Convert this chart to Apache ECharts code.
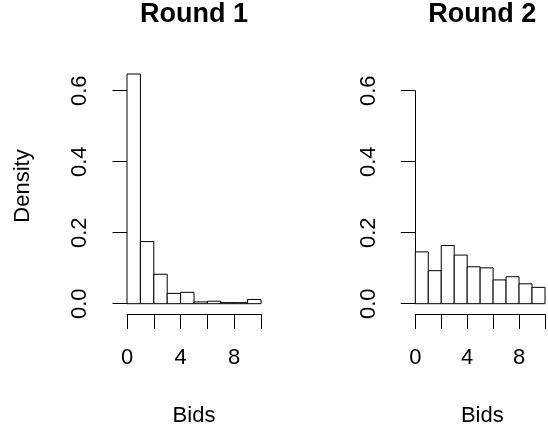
<!DOCTYPE html>
<html>
<head>
<meta charset="utf-8">
<script src="https://cdn.jsdelivr.net/npm/echarts@6/dist/echarts.min.js"></script>
<style>
  html, body { margin: 0; padding: 0; background: #ffffff; }
  #chart { width: 548px; height: 433px; }
</style>
</head>
<body>
<div id="chart"></div>
<script>
// Bin edges (Bids)
const binEdges = [0, 1, 2, 3, 4, 5, 6, 7, 8, 9, 10];
// Densities per bin
const round1Density = [0.647, 0.175, 0.083, 0.029, 0.032, 0.005, 0.007, 0.003, 0.003, 0.012];
const round2Density = [0.146, 0.093, 0.164, 0.137, 0.104, 0.101, 0.067, 0.076, 0.056, 0.046];
// Titles and labels
const panelTitles = ['Round 1', 'Round 2'];
const xTickValues = [0, 2, 4, 6, 8, 10];
const xLabelValues = [0, 4, 8];
const yTickValues = [0, 0.2, 0.4, 0.6];
const xAxisTitle = 'Bids';
const yAxisTitle = 'Density';

const FONT = '"Liberation Sans", Arial, Helvetica, sans-serif';

function toBins(values) {
  return values.map((v, i) => [binEdges[i], binEdges[i + 1], v]);
}

const chart = echarts.init(document.getElementById('chart'), null, { renderer: 'canvas' });

const panelLeft = [127, 415.3];
const panelWidth = 134;
const gridTop = 90.7;
const gridHeight = 213;

function makeX(idx) {
  return {
    type: 'value', gridIndex: idx, min: 0, max: 10, interval: 2,
    offset: 10.6,
    axisLine: { show: true, onZero: false, lineStyle: { color: '#000', width: 1 } },
    axisTick: { show: true, length: 14.7, lineStyle: { color: '#000', width: 1 } },
    axisLabel: {
      margin: 33, color: '#000', fontSize: 22, fontFamily: FONT,
      showMinLabel: true, showMaxLabel: true,
      formatter: v => (xLabelValues.indexOf(v) >= 0 ? String(v) : '')
    },
    splitLine: { show: false }
  };
}
function makeY(idx) {
  return {
    type: 'value', gridIndex: idx, min: 0, max: 0.6, interval: 0.2,
    offset: 4.7,
    axisLine: { show: true, lineStyle: { color: '#000', width: 1 } },
    axisTick: { show: true, length: 14.5, lineStyle: { color: '#000', width: 1 } },
    axisLabel: {
      rotate: 90, margin: 31, color: '#000', fontSize: 22, fontFamily: FONT,
      showMinLabel: true, showMaxLabel: true,
      formatter: v => v.toFixed(1)
    },
    splitLine: { show: false }
  };
}

function renderBar(params, api) {
  const x0 = api.value(0), x1 = api.value(1), y = api.value(2);
  const p0 = api.coord([x0, y]);
  const p1 = api.coord([x1, 0]);
  return {
    type: 'rect',
    shape: { x: p0[0], y: p0[1], width: p1[0] - p0[0], height: p1[1] - p0[1] },
    style: { fill: '#ffffff', stroke: '#000000', lineWidth: 1 }
  };
}

const option = {
  backgroundColor: '#ffffff',
  animation: false,
  textStyle: { fontFamily: FONT },
  title: panelTitles.map((t, i) => ({
    text: t,
    left: panelLeft[i] + panelWidth / 2,
    top: 1,
    padding: 0,
    textAlign: 'center',
    textStyle: { fontSize: 27, fontWeight: 'bold', color: '#000', fontFamily: FONT }
  })),
  grid: panelLeft.map(l => ({ left: l, top: gridTop, width: panelWidth, height: gridHeight, containLabel: false })),
  xAxis: [makeX(0), makeX(1)],
  yAxis: [makeY(0), makeY(1)],
  series: [
    { type: 'custom', xAxisIndex: 0, yAxisIndex: 0, clip: false, renderItem: renderBar, data: toBins(round1Density), encode: { x: [0, 1], y: 2 } },
    { type: 'custom', xAxisIndex: 1, yAxisIndex: 1, clip: false, renderItem: renderBar, data: toBins(round2Density), encode: { x: [0, 1], y: 2 } }
  ],
  graphic: [
    { type: 'text', x: 23, y: 186, rotation: Math.PI / 2,
      style: { text: yAxisTitle, font: '22px ' + FONT, fill: '#000', align: 'center', verticalAlign: 'middle', textAlign: 'center', textVerticalAlign: 'middle' } },
    { type: 'text', x: panelLeft[0] + panelWidth / 2, y: 416,
      style: { text: xAxisTitle, font: '22px ' + FONT, fill: '#000', align: 'center', verticalAlign: 'middle', textAlign: 'center', textVerticalAlign: 'middle' } },
    { type: 'text', x: panelLeft[1] + panelWidth / 2, y: 416,
      style: { text: xAxisTitle, font: '22px ' + FONT, fill: '#000', align: 'center', verticalAlign: 'middle', textAlign: 'center', textVerticalAlign: 'middle' } }
  ]
};
chart.setOption(option);
</script>
</body>
</html>
